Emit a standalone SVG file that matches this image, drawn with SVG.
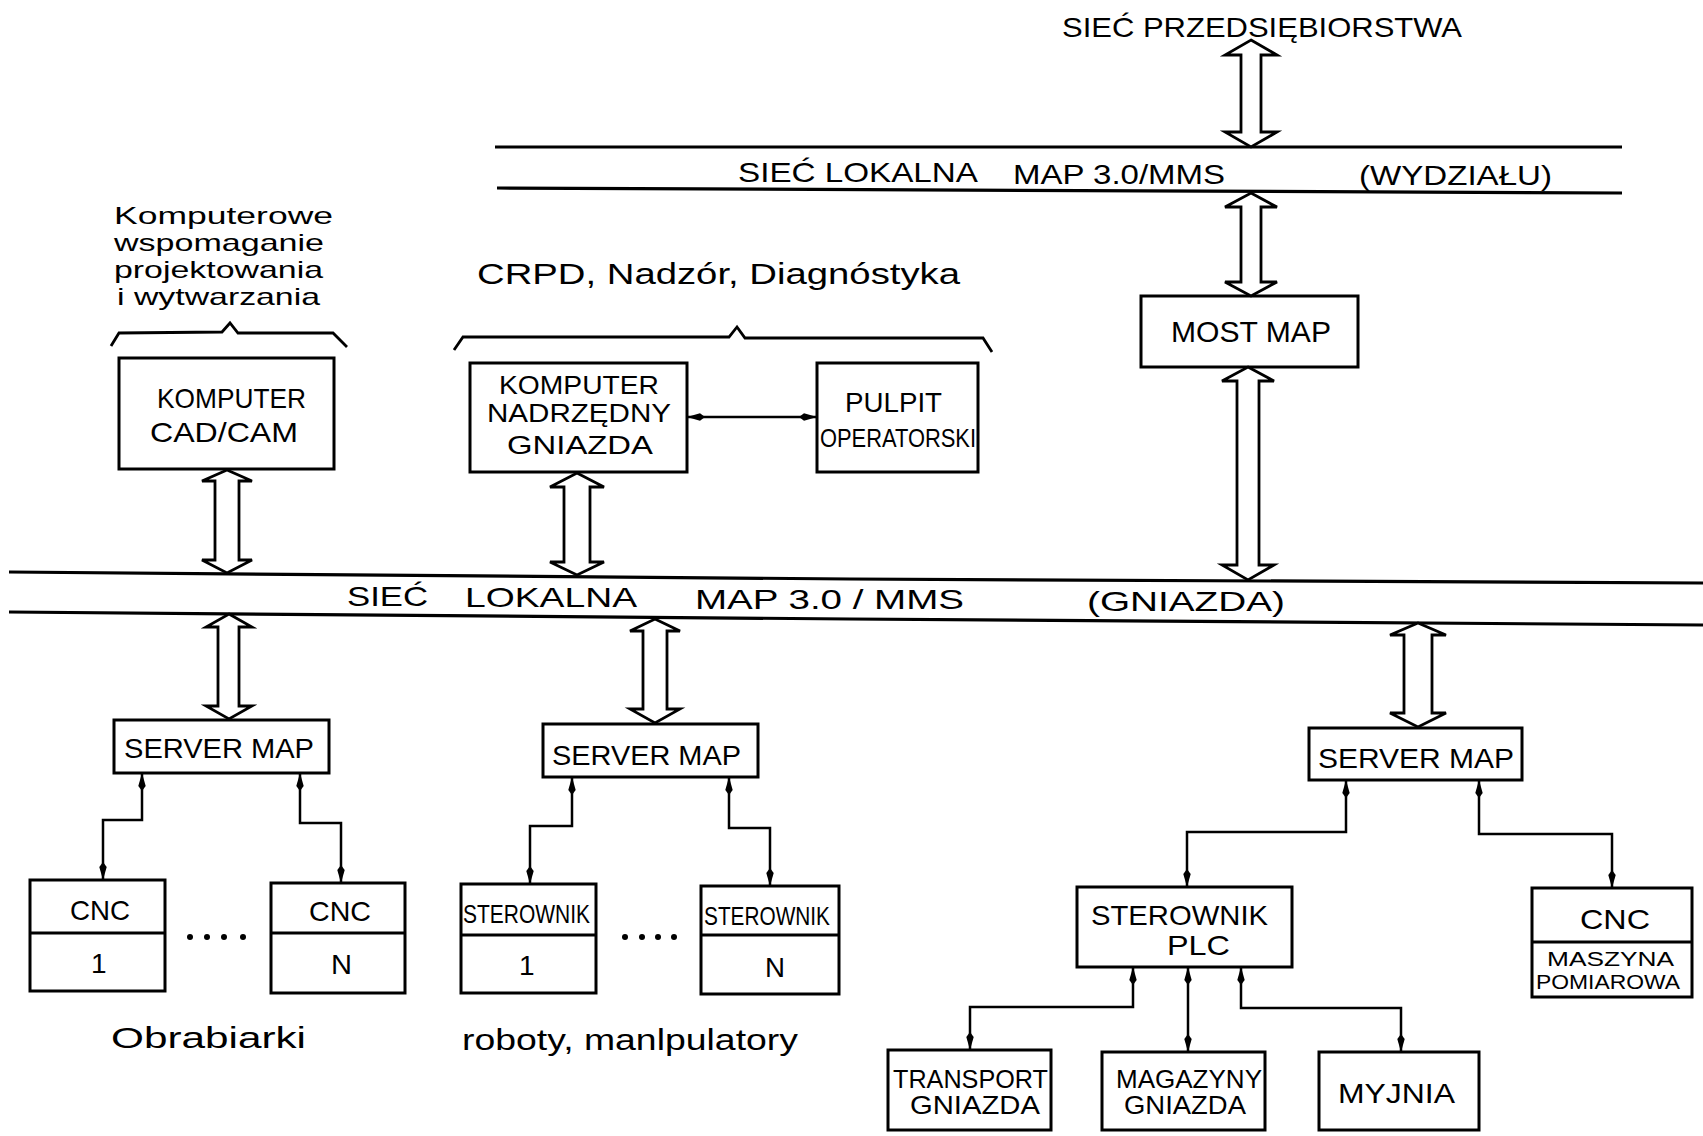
<svg xmlns="http://www.w3.org/2000/svg" width="1703" height="1136" viewBox="0 0 1703 1136">
<style>
.box{fill:#fff;stroke:#000;stroke-width:3}
.ln{fill:none;stroke:#000;stroke-width:3}
.bus{fill:none;stroke:#000;stroke-width:3.2}
.dbl{fill:#fff;stroke:#000;stroke-width:2.8;stroke-linejoin:miter}
.conn{fill:none;stroke:#000;stroke-width:2.5;marker-start:url(#ah);marker-end:url(#ah)}
.brk{fill:none;stroke:#000;stroke-width:2.8;stroke-linejoin:miter}
text{font-family:"Liberation Sans","DejaVu Sans",sans-serif;fill:#000}
.c{font-size:28px}
.m{font-size:25px}
.s{font-size:25px}
.lw{font-size:30px}
.lb{font-size:24px}
.dot{fill:#000}
</style>
<defs>
<marker id="ah" viewBox="0 0 18 9" refX="18" refY="4.5" markerWidth="18" markerHeight="9" markerUnits="userSpaceOnUse" orient="auto-start-reverse">
<path d="M0,4.5 L5,0.8 L18,4.5 L5,8.2 Z" fill="#000"/>
</marker>
</defs>

<!-- networks / buses -->
<g id="bus-wydzialu">
<line class="bus" x1="495" y1="147" x2="1622" y2="147"/>
<line class="bus" x1="497" y1="188" x2="1622" y2="193"/>
<text class="c" x="738" y="182" textLength="240" lengthAdjust="spacingAndGlyphs">SIEĆ LOKALNA</text>
<text class="c" x="1013" y="184" textLength="212" lengthAdjust="spacingAndGlyphs">MAP 3.0/MMS</text>
<text class="c" x="1359" y="185" textLength="193" lengthAdjust="spacingAndGlyphs">(WYDZIAŁU)</text>
</g>
<g id="bus-gniazda">
<polyline class="bus" points="9,572 850,579 1703,583"/>
<polyline class="bus" points="9,612 850,619 1703,625"/>
<text class="c" x="347" y="606" textLength="81" lengthAdjust="spacingAndGlyphs">SIEĆ</text>
<text class="c" x="465" y="607" textLength="172" lengthAdjust="spacingAndGlyphs">LOKALNA</text>
<text class="c" x="695" y="609" textLength="269" lengthAdjust="spacingAndGlyphs">MAP 3.0 / MMS</text>
<text class="c" x="1087" y="611" textLength="198" lengthAdjust="spacingAndGlyphs">(GNIAZDA)</text>
</g>

<g id="label-siec-przedsiebiorstwa">
<text class="c" x="1062" y="37" textLength="400" lengthAdjust="spacingAndGlyphs">SIEĆ PRZEDSIĘBIORSTWA</text>
</g>

<g id="label-cad">
<text class="lb" x="114" y="224" textLength="219" lengthAdjust="spacingAndGlyphs">Komputerowe</text>
<text class="lb" x="114" y="251" textLength="210" lengthAdjust="spacingAndGlyphs">wspomaganie</text>
<text class="lb" x="114" y="278" textLength="209" lengthAdjust="spacingAndGlyphs">projektowania</text>
<text class="lb" x="117" y="305" textLength="203" lengthAdjust="spacingAndGlyphs">i wytwarzania</text>
<polyline class="brk" points="111,346 119,333 222,332 230,323 238,333 333,333 347,347"/>
</g>

<g id="label-crpd">
<text class="lw" x="477" y="284" textLength="483" lengthAdjust="spacingAndGlyphs">CRPD, Nadzór, Diagnóstyka</text>
<polyline class="brk" points="454,350 463,337 729,337 737,327 745,338 983,338 992,352"/>
</g>

<!-- nodes -->
<g id="n-most-map">
<rect class="box" x="1141" y="296" width="217" height="71"/>
<text class="lw" x="1171" y="342" textLength="160" lengthAdjust="spacingAndGlyphs">MOST MAP</text>
</g>

<g id="n-cad-cam">
<rect class="box" x="119" y="358" width="215" height="111"/>
<text class="c" x="157" y="408" textLength="149" lengthAdjust="spacingAndGlyphs">KOMPUTER</text>
<text class="c" x="150" y="442" textLength="148" lengthAdjust="spacingAndGlyphs">CAD/CAM</text>
</g>

<g id="n-nadrzedny">
<rect class="box" x="470" y="363" width="217" height="109"/>
<text class="m" x="499" y="394" textLength="160" lengthAdjust="spacingAndGlyphs">KOMPUTER</text>
<text class="m" x="487" y="422" textLength="184" lengthAdjust="spacingAndGlyphs">NADRZĘDNY</text>
<text class="m" x="507" y="454" textLength="146" lengthAdjust="spacingAndGlyphs">GNIAZDA</text>
</g>

<g id="n-pulpit">
<rect class="box" x="817" y="363" width="161" height="109"/>
<text class="c" x="845" y="412" textLength="97" lengthAdjust="spacingAndGlyphs">PULPIT</text>
<text class="s" x="820" y="447" textLength="156" lengthAdjust="spacingAndGlyphs">OPERATORSKI</text>
</g>

<g id="n-server-1">
<rect class="box" x="114" y="720" width="215" height="53"/>
<text class="c" x="124" y="758" textLength="190" lengthAdjust="spacingAndGlyphs">SERVER MAP</text>
</g>
<g id="n-server-2">
<rect class="box" x="543" y="724" width="215" height="53"/>
<text class="c" x="552" y="765" textLength="189" lengthAdjust="spacingAndGlyphs">SERVER MAP</text>
</g>
<g id="n-server-3">
<rect class="box" x="1309" y="728" width="213" height="52"/>
<text class="c" x="1318" y="768" textLength="196" lengthAdjust="spacingAndGlyphs">SERVER MAP</text>
</g>

<g id="n-cnc-1">
<rect class="box" x="30" y="880" width="135" height="111"/>
<line class="ln" x1="30" y1="933" x2="165" y2="933"/>
<text class="c" x="70" y="920" textLength="60" lengthAdjust="spacingAndGlyphs">CNC</text>
<text class="c" x="91" y="973">1</text>
</g>
<g id="dots-cnc">
<circle class="dot" cx="190" cy="937" r="3"/><circle class="dot" cx="207" cy="937" r="3"/><circle class="dot" cx="224" cy="937" r="3"/><circle class="dot" cx="243" cy="937" r="3"/>
</g>
<g id="n-cnc-n">
<rect class="box" x="271" y="883" width="134" height="110"/>
<line class="ln" x1="271" y1="933" x2="405" y2="933"/>
<text class="c" x="309" y="921" textLength="62" lengthAdjust="spacingAndGlyphs">CNC</text>
<text class="c" x="331" y="974" textLength="21" lengthAdjust="spacingAndGlyphs">N</text>
</g>
<g id="label-obrabiarki">
<text class="lw" x="111" y="1048" textLength="195" lengthAdjust="spacingAndGlyphs">Obrabiarki</text>
</g>

<g id="n-sterownik-1">
<rect class="box" x="461" y="884" width="135" height="109"/>
<line class="ln" x1="461" y1="935" x2="596" y2="935"/>
<text class="s" x="463" y="923" textLength="127" lengthAdjust="spacingAndGlyphs">STEROWNIK</text>
<text class="c" x="519" y="975">1</text>
</g>
<g id="dots-sterownik">
<circle class="dot" cx="625" cy="937" r="3"/><circle class="dot" cx="642" cy="937" r="3"/><circle class="dot" cx="658" cy="937" r="3"/><circle class="dot" cx="674" cy="937" r="3"/>
</g>
<g id="n-sterownik-n">
<rect class="box" x="701" y="886" width="138" height="108"/>
<line class="ln" x1="701" y1="935" x2="839" y2="935"/>
<text class="s" x="704" y="925" textLength="126" lengthAdjust="spacingAndGlyphs">STEROWNIK</text>
<text class="c" x="765" y="977" textLength="20" lengthAdjust="spacingAndGlyphs">N</text>
</g>
<g id="label-roboty">
<text class="lw" x="462" y="1050" textLength="336" lengthAdjust="spacingAndGlyphs">roboty, manlpulatory</text>
</g>

<g id="n-plc">
<rect class="box" x="1077" y="887" width="215" height="80"/>
<text class="c" x="1091" y="925" textLength="177" lengthAdjust="spacingAndGlyphs">STEROWNIK</text>
<text class="c" x="1167" y="955" textLength="63" lengthAdjust="spacingAndGlyphs">PLC</text>
</g>

<g id="n-cnc-pomiar">
<rect class="box" x="1532" y="888" width="160" height="109"/>
<line class="ln" x1="1532" y1="942" x2="1692" y2="942"/>
<text class="c" x="1580" y="929" textLength="70" lengthAdjust="spacingAndGlyphs">CNC</text>
<text x="1547" y="966" font-size="21" textLength="127" lengthAdjust="spacingAndGlyphs">MASZYNA</text>
<text x="1536" y="989" font-size="21" textLength="144" lengthAdjust="spacingAndGlyphs">POMIAROWA</text>
</g>

<g id="n-transport">
<rect class="box" x="888" y="1050" width="163" height="80"/>
<text class="s" x="893" y="1088" textLength="155" lengthAdjust="spacingAndGlyphs">TRANSPORT</text>
<text class="s" x="910" y="1114" textLength="130" lengthAdjust="spacingAndGlyphs">GNIAZDA</text>
</g>
<g id="n-magazyny">
<rect class="box" x="1102" y="1052" width="163" height="78"/>
<text class="s" x="1116" y="1088" textLength="146" lengthAdjust="spacingAndGlyphs">MAGAZYNY</text>
<text class="s" x="1124" y="1114" textLength="122" lengthAdjust="spacingAndGlyphs">GNIAZDA</text>
</g>
<g id="n-myjnia">
<rect class="box" x="1319" y="1052" width="160" height="78"/>
<text class="c" x="1338" y="1103" textLength="117" lengthAdjust="spacingAndGlyphs">MYJNIA</text>
</g>

<!-- connectors -->
<g id="connectors">
<path class="dbl" d="M1251,40 L1277,55 L1261,55 L1261,132 L1277,132 L1251,147 L1225,132 L1241,132 L1241,55 L1225,55 Z"/>
<path class="dbl" d="M1251,193 L1277,207 L1261,207 L1261,282 L1277,282 L1251,296 L1225,282 L1241,282 L1241,207 L1225,207 Z"/>
<path class="dbl" d="M1248,367 L1274,381 L1259,381 L1259,565 L1274,565 L1248,580 L1222,565 L1237,565 L1237,381 L1222,381 Z"/>
<path class="dbl" d="M227,470 L252,481 L239,481 L239,560 L252,560 L227,573 L202,560 L215,560 L215,481 L202,481 Z"/>
<path class="dbl" d="M577,473 L604,487 L590,487 L590,562 L604,562 L577,575 L550,562 L564,562 L564,487 L550,487 Z"/>
<path class="dbl" d="M229,614 L252,627 L239,627 L239,706 L252,706 L229,719 L206,706 L218,706 L218,627 L206,627 Z"/>
<path class="dbl" d="M655,619 L680,631 L667,631 L667,709 L680,709 L655,723 L630,709 L643,709 L643,631 L630,631 Z"/>
<path class="dbl" d="M1418,623 L1446,635 L1432,635 L1432,713 L1446,713 L1418,727 L1390,713 L1404,713 L1404,635 L1390,635 Z"/>

<line class="conn" x1="687" y1="417" x2="817" y2="417"/>

<polyline class="conn" points="142,773 142,820 103,820 103,880"/>
<polyline class="conn" points="300,773 300,823 341,823 341,883"/>
<polyline class="conn" points="572,777 572,826 530,826 530,884"/>
<polyline class="conn" points="729,777 729,828 770,828 770,886"/>
<polyline class="conn" points="1346,780 1346,832 1187,832 1187,887"/>
<polyline class="conn" points="1479,780 1479,834 1612,834 1612,888"/>
<polyline class="conn" points="1133,967 1133,1007 970,1007 970,1050"/>
<polyline class="conn" points="1188,967 1188,1052"/>
<polyline class="conn" points="1241,967 1241,1008 1401,1008 1401,1052"/>
</g>
</svg>
